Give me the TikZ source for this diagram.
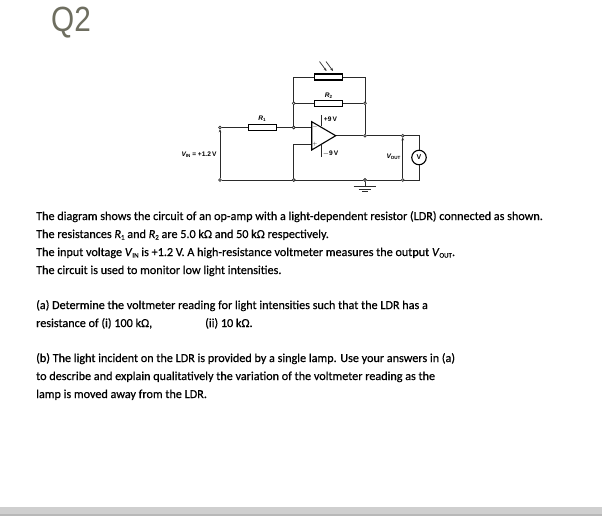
\documentclass[tikz,border=0pt]{standalone}
\usepackage{fontspec}
\setmainfont[AutoFakeBold=0.6]{Carlito}
\newfontfamily\labfont{Liberation Sans}
\newfontfamily\titlefont{Liberation Sans}
\newcommand{\txt}{\fontsize{12.16}{14}\selectfont\addfontfeature{FakeBold=0.5}}
\newcommand{\subs}[1]{\raisebox{-1.6pt}{\fontsize{7}{8}\selectfont #1}}
\usetikzlibrary{arrows.meta}
\definecolor{wirec}{HTML}{2A2A2A}
\definecolor{barc}{HTML}{CFCFCF}
\definecolor{bard}{HTML}{B8B8B8}
\definecolor{titlec}{HTML}{6E6E60}
\tikzset{
 wire/.style={draw=wirec,line width=1pt},
 dotnode/.style={circle,draw=wirec,fill=white,line width=0.7pt,inner sep=0pt,minimum size=2.8pt},
 resbox/.style={rectangle,draw=black,fill=white,line width=1.3pt,inner sep=0pt,minimum width=28pt,minimum height=6pt},
 lab/.style={font=\labfont\fontsize{6.6}{7}\selectfont,text=black,inner sep=0pt},
 para/.style={anchor=base west,inner sep=0pt,text=black,font=\txt},
}
\begin{document}
\begin{tikzpicture}[x=1pt,y=-1pt]
\useasboundingbox (0,0) rectangle (604,520);
\fill[white] (0,0) rectangle (604,520);
\node[anchor=base west,inner sep=0pt,xscale=0.85,text=titlec,font=\titlefont\fontsize{35}{38}\selectfont] (title) at (51,31) {Q2};

% nodes
\node[dotnode] (vintop) at (220,127.5) {};
\node[dotnode] (vinbot) at (220,180) {};
\node[resbox] (r1) at (262.3,127.5) {};
\node[dotnode] (j1) at (293.7,127.5) {};
\node[dotnode] (j2) at (293.7,103.3) {};
\node[dotnode] (j3) at (365,103.3) {};
\node[dotnode] (jout) at (365,135.7) {};
\node[resbox] (ldr) at (328.3,77) {};
\node[resbox] (r2) at (328.3,103.3) {};
\node[dotnode] (outtop) at (402.7,135.7) {};
\node[dotnode] (outbot) at (402.7,180) {};
\node[dotnode] (jb1) at (293.7,180) {};
\node[dotnode] (jb2) at (365,180) {};
\node[circle,draw=black,fill=white,line width=1.1pt,inner sep=0pt,minimum size=14.5pt,font=\labfont\bfseries\fontsize{7}{7}\selectfont] (vm) at (419,157.5) {V};
\coordinate (oa) at (311.7,121.7);
\coordinate (ob) at (311.7,150);
\coordinate (oc) at (335.7,135.7);
\coordinate (inm) at (311.7,127.5);
\coordinate (inp) at (311.7,144.3);
\coordinate (ltl) at (293.7,77);
\coordinate (ltr) at (365,77);
\coordinate (rtc) at (419,135.7);
\coordinate (rbc) at (419,180);
\coordinate (sp1) at (321.7,115);
\coordinate (sp2) at (321.7,126.2);
\coordinate (sn1) at (321.7,145.4);
\coordinate (sn2) at (321.7,156.7);
\coordinate (gnd) at (365,186);

% wires
\draw[wire] (vintop) -- (r1) -- (j1) -- (inm);
\draw[wire] (j1) -- (j2) -- (ltl) -- (ldr) -- (ltr) -- (j3) -- (jout);
\draw[wire] (j2) -- (r2) -- (j3);
\draw[wire] (oc) -- (jout) -- (outtop) -- (rtc) -- (vm) -- (rbc) -- (outbot) -- (jb2) -- (jb1) -- (vinbot);
\draw[wire] (jb1) |- (inp);
\draw[wire] (jb2) -- (gnd);
\draw[wire,line width=0.8pt,-{Stealth[length=3pt,width=2.6pt]}] (vinbot) -- (vintop);
\draw[wire,line width=0.8pt,-{Stealth[length=3pt,width=2.6pt]}] (outbot) -- (outtop);
\draw[wire] (sp1) -- (sp2);
\draw[wire] (sn1) -- (sn2);
\draw[draw=black,fill=white,line width=1.1pt,line join=miter] (oa) -- (oc) -- (ob) -- cycle;
\node[dotnode] at (j1) {};
\node[dotnode] at (jb1) {};
\node[dotnode] at (jb2) {};
\node[resbox] at (r1) {};
\node[resbox] at (ldr) {};
\node[resbox] at (r2) {};
\node[lab] (minus) at (315,127.5) {\fontsize{5}{5}\selectfont$-$};
\node[lab] (plus) at (315,144.3) {\fontsize{5}{5}\selectfont$+$};

% light rays
\coordinate (ra1) at (319.5,61.5); \coordinate (ra2) at (326.5,71);
\coordinate (rb1) at (326,61.5); \coordinate (rb2) at (333,71);
\draw[wire,line width=0.7pt,-{Stealth[length=3pt,width=2.6pt]}] (ra1) -- (ra2);
\draw[wire,line width=0.7pt,-{Stealth[length=3pt,width=2.6pt]}] (rb1) -- (rb2);

% ground
\coordinate (g1a) at (353.5,186.3); \coordinate (g1b) at (376,186.3);
\coordinate (g2a) at (358.5,189); \coordinate (g2b) at (371,189);
\coordinate (g3a) at (362,191.5); \coordinate (g3b) at (368,191.5);
\draw[wire] (g1a) -- (g1b);
\draw[wire] (g2a) -- (g2b);
\draw[wire] (g3a) -- (g3b);

% labels
\node[lab] (lr1) at (262,119) {\bfseries\itshape R\raisebox{-1pt}{\fontsize{4.5}{4}\selectfont\upshape 1}};
\node[lab] (lr2) at (328.5,96) {\bfseries\itshape R\raisebox{-1pt}{\fontsize{4.5}{4}\selectfont\upshape 2}};
\node[lab] (lp9) at (330.5,119) {\bfseries +9\,V};
\node[lab] (lm9) at (330.5,154) {\bfseries $-$9\,V};
\node[lab] (lvin) at (199,154.3) {\bfseries\itshape V\raisebox{-1pt}{\fontsize{4.5}{4}\selectfont\upshape IN}\upshape\ = +1.2\,V};
\node[lab] (lvout) at (393.5,156.5) {\bfseries\itshape V\raisebox{-1pt}{\fontsize{4.5}{4}\selectfont\upshape OUT}};

% text
\node[para] (t1) at (36,220) {The diagram shows the circuit of an op-amp with a light-dependent resistor (LDR) connected as shown.};
\node[para] (t2) at (36,238) {The resistances \textit{R}\subs{1} and \textit{R}\subs{2} are 5.0 kΩ and 50 kΩ respectively.};
\node[para] (t3) at (36,256) {The input voltage \textit{V}\subs{IN} is +1.2 V. A high-resistance voltmeter measures the output \textit{V}\subs{OUT}.};
\node[para] (t4) at (36,274) {The circuit is used to monitor low light intensities.};
\node[para] (t5) at (36,309) {(a) Determine the voltmeter reading for light intensities such that the LDR has a};
\node[para] (t6) at (36,327) {resistance of (i) 100 kΩ,};
\node[para] (t6b) at (205,327) {(ii) 10 kΩ.};
\node[para] (t7) at (36,362) {(b) The light incident on the LDR is provided by a single lamp. Use your answers in (a)};
\node[para] (t8) at (36,380) {to describe and explain qualitatively the variation of the voltmeter reading as the};
\node[para] (t9) at (36,398) {lamp is moved away from the LDR.};

% bottom bar
\fill[barc] (0,506.5) rectangle (602,516);
\fill[bard] (0,514) rectangle (602,516);
\end{tikzpicture}
\end{document}
